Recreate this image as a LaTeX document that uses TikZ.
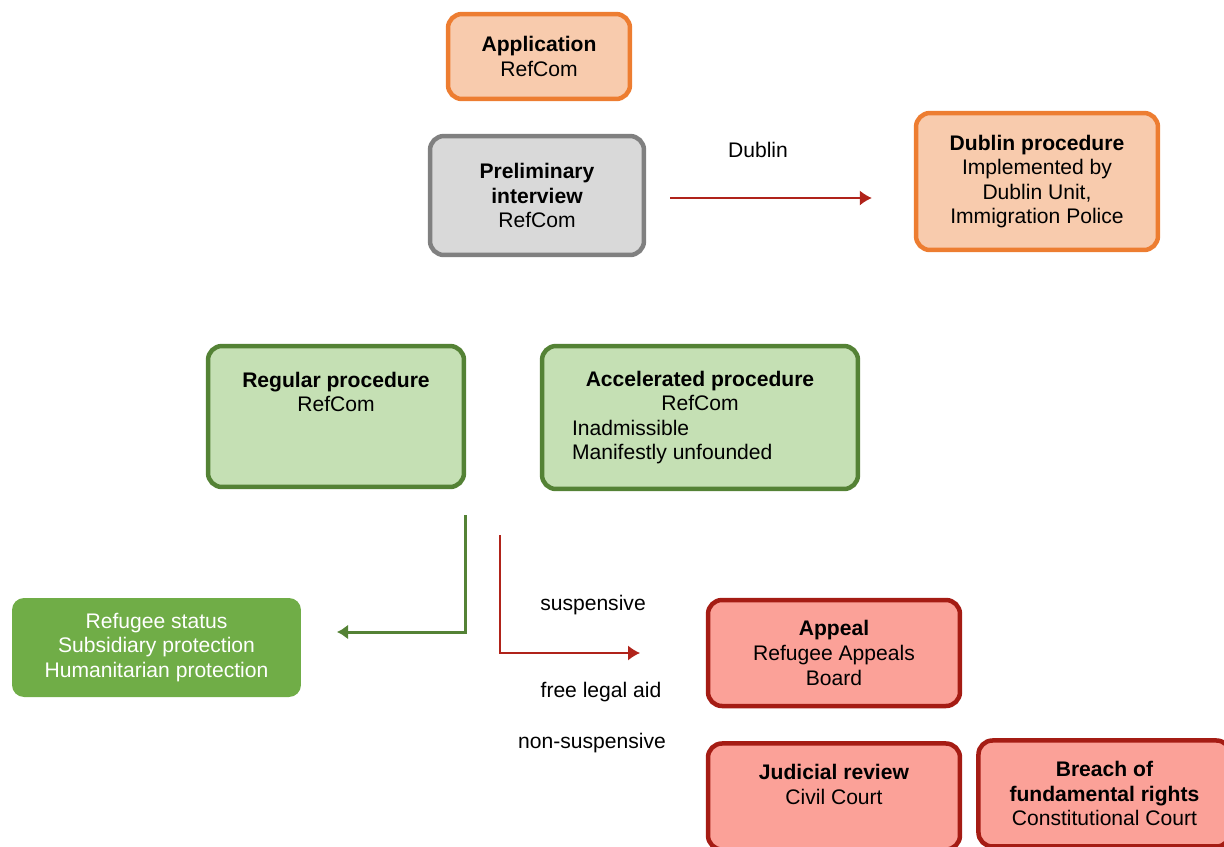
\documentclass[tikz,border=0pt]{standalone}
\usepackage{fontspec}
\setmainfont{Liberation Sans}
\usepackage{xcolor}
\usepackage{tikz}
\usetikzlibrary{arrows.meta}
\usetikzlibrary{positioning}

\definecolor{orgline}{HTML}{ED7D31}
\definecolor{orgfill}{HTML}{F8CBAD}
\definecolor{grayline}{HTML}{808080}
\definecolor{grayfill}{HTML}{D9D9D9}
\definecolor{grnline}{HTML}{548235}
\definecolor{grnfill}{HTML}{C5E0B4}
\definecolor{grnsolid}{HTML}{70AD47}
\definecolor{redline}{HTML}{A51C14}
\definecolor{redfill}{HTML}{FBA198}
\definecolor{redarrow}{HTML}{B0231A}

\begin{document}
\begin{tikzpicture}
[
	x = 0.02cm, y = -0.02cm,
	box/.style	= {rectangle, rounded corners = 0.28cm, line width = 0.09cm, align = center, inner sep = 0cm, font = \fontsize{12}{14}\selectfont},
	start/.style = {box, draw = orgline, fill = orgfill},
	interview/.style = {box, draw = grayline, fill = grayfill},
	proc/.style = {box, draw = grnline, fill = grnfill},
	grant/.style = {box, fill = grnsolid, text = white, rounded corners = 0.24cm},
	court/.style = {box, draw = redline, fill = redfill, minimum width = 5.04cm, minimum height = 2.12cm},
	lbl/.style = {font = \fontsize{12}{14}\selectfont},
	link/.style = {-{Latex[length = 0.24cm, width = 0.3cm]}, draw = redarrow, line width = 0.7pt},
	node distance = 0.66cm and 0.28cm,
]
	\useasboundingbox (0,0) rectangle (1224,846);

	% first instance
	\node (APP) [start, minimum width = 3.64cm, minimum height = 1.7cm] at (539,56.5) {\textbf{Application}\\RefCom};
	\node (PRE) [interview, minimum width = 4.28cm, minimum height = 2.38cm] at (537,195.5) {\textbf{Preliminary}\\\textbf{interview}\\RefCom};
	\node (DUB) [start, minimum width = 4.84cm, minimum height = 2.74cm] at (1037,181.5) {\textbf{Dublin procedure}\\Implemented by\\Dublin Unit,\\Immigration Police};
	%
	\node (REG) [proc, minimum width = 5.12cm, minimum height = 2.82cm] at (336,416.5) {\textbf{Regular procedure}\\RefCom\\\mbox{}\\\mbox{}};
	\node (ACC) [proc, minimum width = 6.32cm, minimum height = 2.86cm] at (700,417.5) {\textbf{Accelerated procedure}\\RefCom\\\makebox[5.12cm][l]{Inadmissible}\\\makebox[5.12cm][l]{Manifestly unfounded}};

	% outcome
	\node (GRANT) [grant, minimum width = 5.78cm, minimum height = 1.98cm] at (156.5,647.5) {Refugee status\\Subsidiary protection\\Humanitarian protection};

	% remedies
	\node (APL) [court] at (834,653) {\textbf{Appeal}\\Refugee Appeals\\Board};
	\node (JUD) [court, below = of APL] {\textbf{Judicial review}\\Civil Court\\\mbox{}};
	\node (BRE) [court, right = of JUD, yshift = 0.06cm] {\textbf{Breach of}\\\textbf{fundamental rights}\\Constitutional Court};

	% paths
	\coordinate (dubin) at ([yshift = -0.05cm] PRE.east -| DUB.west);
	\draw [link, shorten < = 0.48cm, shorten > = 0.84cm] ([yshift = -0.05cm] PRE.east) -- (dubin);
	\node (DL) [lbl] at (758,150) {Dublin};
	%
	\coordinate (regout) at (465,515);
	\coordinate (grantin) at (337,632);
	\draw [-{Latex[length = 0.22cm, width = 0.3cm]}, draw = grnline, line width = 0.06cm] (regout) |- (grantin);
	%
	\coordinate (appout) at (500,535);
	\coordinate (appin) at (640,653);
	\draw [link] (appout) |- (appin);
	\node (SUS) [lbl] at (593,605) {suspensive};
	\node (FLA) [lbl] at (601,692) {free legal aid};
	\node (NON) [lbl] at (592,743) {non-suspensive};

\end{tikzpicture}
\end{document}
